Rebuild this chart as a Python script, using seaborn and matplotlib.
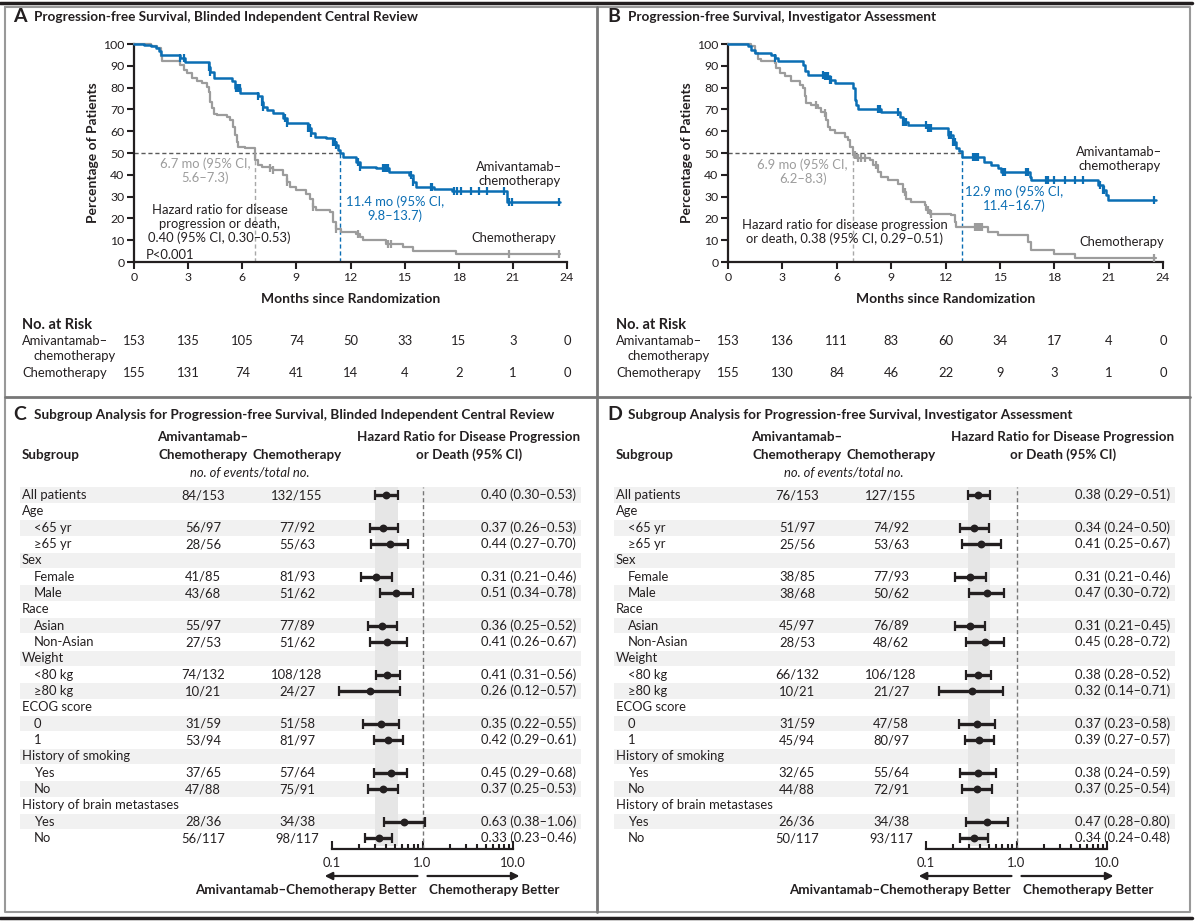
import numpy as np
import matplotlib
matplotlib.use("Agg")
import matplotlib.pyplot as plt
import matplotlib.transforms as mtransforms
from matplotlib.lines import Line2D
from matplotlib.ticker import FixedLocator, NullFormatter
import seaborn as sns

sns.set_style("white")
plt.rcParams["font.family"] = ["Lato", "DejaVu Sans"]
plt.rcParams["font.size"] = 9.4

W, H = 1196, 923
INK = "#231f20"
BLUE = "#0b6eb4"
GRAY = "#9c9c9c"
FS = 9.4      # body text
FSB = 9.6     # bold headers

# -----------------------------
# Kaplan-Meier curves (months, % of patients)
# -----------------------------
# Panel A - blinded independent central review
a_amiv_t = [0, 0.55, 0.92, 1.2, 1.38, 1.47, 2.57, 2.85, 4.14, 4.23, 4.41, 5.42, 5.61, 5.88, 6.89,
            7.08, 7.17, 7.35, 7.72, 8.27, 8.46, 9.65, 9.83, 10.02, 10.66, 11.03, 11.21, 11.3, 11.43,
            11.58, 12.32, 12.5, 13.42, 14.15, 15.26, 15.44, 15.63, 16.64, 17.65, 20.68, 23.6]
a_amiv_s = [100, 99.4, 99, 98, 97, 94.8, 93.6, 91.7, 89.4, 87, 84.4, 82.8, 80, 77.5, 76,
            73.6, 71.3, 69.8, 68.3, 66, 63.8, 61.3, 59, 57.5, 56.7, 55.2, 53.7, 51.4, 49.8,
            48.3, 46, 43.7, 43, 41.4, 39.9, 36.8, 34.5, 33.7, 32.5, 27.6, 27.6]
a_amiv_cens = [2.57, 2.76, 4.14, 4.23, 5.66, 5.74, 5.85, 6.89, 7.08, 7.17, 8.36, 8.46, 9.65, 9.74,
               9.83, 11.03, 11.12, 11.21, 12.41, 12.5, 13.79, 13.88, 13.97, 14.06, 15.35, 15.44,
               16.45, 16.54, 17.74, 17.92, 18.11, 18.66, 19.12, 19.58, 20.5, 20.77, 20.96, 23.53]

a_chemo_t = [0, 0.92, 1.29, 1.47, 1.56, 2.57, 2.76, 2.94, 3.22, 3.49, 3.77, 4.04, 4.14, 4.23, 4.32,
             4.41, 4.6, 5.15, 5.33, 5.51, 5.61, 5.7, 5.79, 6.16, 6.71, 6.9, 7.08, 7.54, 7.72, 8.27,
             8.46, 8.64, 9.0, 9.56, 9.74, 9.93, 10.11, 10.85, 11.03, 11.21, 11.49, 12.32, 12.5,
             12.68, 13.97, 14.89, 15.44, 17.83, 23.6]
a_chemo_s = [100, 99, 98, 94.3, 92, 90.5, 88.2, 86.7, 84.4, 82.8, 82, 80.5, 78.2, 73.6, 70.6,
             68, 67.5, 66.7, 65, 62, 58.3, 55.2, 52.9, 52.2, 46.8, 44.5, 43.7, 43, 42.3, 39.9,
             36.8, 34.5, 33, 31.4, 29.1, 25.3, 23.8, 23, 18.4, 15.3, 13.8, 13, 11.5,
             10, 8.4, 6.9, 4.9, 3.5, 3.5]
a_chemo_cens = [7.54, 7.72, 8.46, 9.93, 11.21, 12.41, 14.06, 14.25, 20.77, 23.55]

# Panel B - investigator assessment
b_amiv_t = [0, 1.1, 1.29, 1.47, 2.39, 2.57, 2.76, 4.14, 4.23, 4.41, 5.33, 5.61, 5.88, 6.89, 6.98,
            7.08, 7.17, 8.46, 9.47, 9.65, 9.93, 11.03, 12.14, 12.4, 12.6, 12.75, 12.9, 14.15,
            14.52, 14.89, 15.07, 16.64, 16.73, 20.4, 20.68, 20.86, 20.96, 23.6]
b_amiv_s = [100, 99, 97.4, 95.9, 95, 93.6, 92, 90.5, 87.4, 85.9, 85.1, 83.6, 82, 79.8, 74.4,
            72.1, 70.2, 69, 66.7, 64.4, 62.9, 61.3, 58.3, 55.2, 52.5, 51, 48.3, 46,
            44.5, 43, 41.4, 39.1, 37.6, 35.3, 33, 30.7, 28.4, 28.4]
b_amiv_cens = [2.57, 5.24, 5.33, 5.42, 5.51, 5.61, 5.7, 8.27, 8.36, 9.38, 9.65, 9.74, 9.83, 10.94,
               11.03, 11.12, 11.21, 12.22, 12.32, 12.41, 12.5, 13.51, 13.6, 13.69, 13.79, 15.17,
               15.26, 16.45, 16.54, 17.55, 17.65, 18.01, 18.57, 19.12, 19.58, 20.5, 20.68, 20.77,
               23.53]

b_chemo_t = [0, 1.29, 1.47, 1.65, 1.84, 2.57, 2.67, 2.85, 3.13, 3.49, 3.95, 4.14, 4.23, 4.32, 4.6,
             4.96, 5.15, 5.33, 5.42, 5.51, 5.61, 5.88, 6.43, 6.62, 6.71, 6.89, 7.08, 7.81, 7.99,
             8.27, 8.46, 8.82, 9.38, 9.65, 9.83, 10.11, 10.85, 10.94, 11.12, 12.32, 12.5, 12.59,
             14.34, 14.89, 16.54, 16.73, 18.01, 19.12, 23.6]
b_chemo_s = [100, 99, 95.9, 93, 92, 91.3, 89, 86.7, 85.1, 82.8, 81.3, 79.8, 76, 72.9, 72.1,
             70.6, 69, 68.3, 65.2, 62.1, 60.6, 59, 57.5, 56, 52.9, 49.1, 47.5, 46.8, 44.5,
             41.4, 39.1, 37.6, 36, 32.2, 29.1, 27.6, 26.1, 23.8, 22.2, 21.4, 18.4, 16.1,
             13.8, 12.3, 9.2, 5.4, 3.8, 2.0, 2.0]
b_chemo_cens = [4.87, 5.33, 6.98, 7.17, 7.35, 7.54, 8.18, 9.74, 11.03, 11.21, 13.6, 13.7, 13.8,
                13.9, 14.0, 23.53]

# medians (months)
a_median_amiv, a_median_chemo = 11.4, 6.7
b_median_amiv, b_median_chemo = 12.9, 6.9

# number at risk
risk_months = [0, 3, 6, 9, 12, 15, 18, 21, 24]
a_risk_amiv = [153, 135, 105, 74, 50, 33, 15, 3, 0]
a_risk_chemo = [155, 131, 74, 41, 14, 4, 2, 1, 0]
b_risk_amiv = [153, 136, 111, 83, 60, 34, 17, 4, 0]
b_risk_chemo = [155, 130, 84, 46, 22, 9, 3, 1, 0]

# -----------------------------
# Subgroup (forest) data
# -----------------------------
subgroups = ["All patients", "Age", "<65 yr", "\u226565 yr", "Sex", "Female", "Male", "Race",
             "Asian", "Non-Asian", "Weight", "<80 kg", "\u226580 kg", "ECOG score", "0", "1",
             "History of smoking", "Yes", "No", "History of brain metastases", "Yes", "No"]

c_amiv = ["84/153", None, "56/97", "28/56", None, "41/85", "43/68", None, "55/97", "27/53", None,
          "74/132", "10/21", None, "31/59", "53/94", None, "37/65", "47/88", None, "28/36", "56/117"]
c_chemo = ["132/155", None, "77/92", "55/63", None, "81/93", "51/62", None, "77/89", "51/62", None,
           "108/128", "24/27", None, "51/58", "81/97", None, "57/64", "75/91", None, "34/38", "98/117"]
c_hr = [0.40, None, 0.37, 0.44, None, 0.31, 0.51, None, 0.36, 0.41, None,
        0.41, 0.26, None, 0.35, 0.42, None, 0.45, 0.37, None, 0.63, 0.33]
c_lo = [0.30, None, 0.26, 0.27, None, 0.21, 0.34, None, 0.25, 0.26, None,
        0.31, 0.12, None, 0.22, 0.29, None, 0.29, 0.25, None, 0.38, 0.23]
c_hi = [0.53, None, 0.53, 0.70, None, 0.46, 0.78, None, 0.52, 0.67, None,
        0.56, 0.57, None, 0.55, 0.61, None, 0.68, 0.53, None, 1.06, 0.46]

d_amiv = ["76/153", None, "51/97", "25/56", None, "38/85", "38/68", None, "45/97", "28/53", None,
          "66/132", "10/21", None, "31/59", "45/94", None, "32/65", "44/88", None, "26/36", "50/117"]
d_chemo = ["127/155", None, "74/92", "53/63", None, "77/93", "50/62", None, "76/89", "48/62", None,
           "106/128", "21/27", None, "47/58", "80/97", None, "55/64", "72/91", None, "34/38", "93/117"]
d_hr = [0.38, None, 0.34, 0.41, None, 0.31, 0.47, None, 0.31, 0.45, None,
        0.38, 0.32, None, 0.37, 0.39, None, 0.38, 0.37, None, 0.47, 0.34]
d_lo = [0.29, None, 0.24, 0.25, None, 0.21, 0.30, None, 0.21, 0.28, None,
        0.28, 0.14, None, 0.23, 0.27, None, 0.24, 0.25, None, 0.28, 0.24]
d_hi = [0.51, None, 0.50, 0.67, None, 0.46, 0.72, None, 0.45, 0.72, None,
        0.52, 0.71, None, 0.58, 0.57, None, 0.59, 0.54, None, 0.80, 0.48]

# -----------------------------
# Figure helpers (pixel layout)
# -----------------------------
fig = plt.figure(figsize=(W / 100, H / 100), dpi=100)


def frect(x0, y0, x1, y1):
    return [x0 / W, 1 - y1 / H, (x1 - x0) / W, (y1 - y0) / H]


def ftext(x, y, s, **kw):
    kw.setdefault("color", INK)
    kw.setdefault("va", "center")
    fig.text(x / W, 1 - y / H, s, **kw)


def fline(xs, ys, **kw):
    fig.add_artist(Line2D([x / W for x in xs], [1 - y / H for y in ys], **kw))


# -----------------------------
# Kaplan-Meier panels
# -----------------------------
def km_panel(x0, x1, curves, med_amiv, med_chemo, notes, risk_amiv, risk_chemo):
    ax = fig.add_axes(frect(x0, 44, x1, 262))
    ax.patch.set_alpha(0)
    dash = (0, (3, 2))
    ax.plot([0, med_amiv], [50, 50], color="#5a5a5a", lw=1, ls=dash, zorder=1)
    ax.plot([med_chemo, med_chemo], [0, 50], color="#a8a8a8", lw=1, ls=dash, zorder=1)
    ax.plot([med_amiv, med_amiv], [0, 50], color=BLUE, lw=1, ls=dash, zorder=1)

    for t, s, cens, col, lw in curves:
        sns.lineplot(x=t, y=s, drawstyle="steps-post", estimator=None, sort=False,
                     color=col, linewidth=lw, ax=ax, clip_on=False, zorder=3)
        idx = np.searchsorted(t, cens, side="right") - 1
        ax.plot(cens, np.asarray(s)[idx], ls="none", marker="|", ms=6, mew=1.6,
                color=col, clip_on=False, zorder=4)

    for x, y, s, col, ha in notes:
        ax.text(x, y, s, color=col, ha=ha, va="center", fontsize=FS, linespacing=1.15)

    ax.set_xlim(0, 24)
    ax.set_ylim(0, 100)
    ax.set_xticks(risk_months)
    ax.set_yticks(range(0, 101, 10))
    ax.set_xlabel("")
    ax.set_ylabel("")
    sns.despine(ax=ax)
    for sp in ("left", "bottom"):
        ax.spines[sp].set_linewidth(1.6)
        ax.spines[sp].set_color(INK)
    ax.tick_params(direction="out", length=5, width=1.5, labelsize=8.8, pad=2,
                   colors=INK, left=True, bottom=True)

    ftext(x0 - 41, 153, "Percentage of Patients", rotation=90, ha="center",
          weight="bold", fontsize=10)
    ftext((x0 + x1) / 2, 299, "Months since Randomization", ha="center",
          weight="bold", fontsize=10)

    # number at risk
    ax_r = fig.add_axes(frect(x0, 315, x1, 385))
    ax_r.set_xlim(0, 24)
    ax_r.set_ylim(2.75, -1.625)
    ax_r.axis("off")
    for m, n1, n2 in zip(risk_months, risk_amiv, risk_chemo):
        ax_r.text(m, 0, str(n1), ha="center", va="center", color=INK, fontsize=FS)
        ax_r.text(m, 2, str(n2), ha="center", va="center", color=INK, fontsize=FS)
    return ax


notes_a = [
    (3.94, 41.7, "6.7 mo (95% CI,\n5.6\u20137.3)", GRAY, "center"),
    (4.75, 17.5, "Hazard ratio for disease\nprogression or death,\n0.40 (95% CI, 0.30\u20130.53)",
     INK, "center"),
    (0.67, 3.2, "P<0.001", INK, "left"),
    (14.47, 24.3, "11.4 mo (95% CI,\n9.8\u201313.7)", BLUE, "center"),
    (21.35, 40.4, "Amivantamab\u2013\nchemotherapy", INK, "center"),
    (21.06, 10.9, "Chemotherapy", INK, "center"),
]
notes_b = [
    (4.12, 41.3, "6.9 mo (95% CI,\n6.2\u20138.3)", GRAY, "center"),
    (6.43, 13.8, "Hazard ratio for disease progression\nor death, 0.38 (95% CI, 0.29\u20130.51)",
     INK, "center"),
    (15.8, 29.0, "12.9 mo (95% CI,\n11.4\u201316.7)", BLUE, "center"),
    (21.6, 47.2, "Amivantamab\u2013\nchemotherapy", INK, "center"),
    (21.7, 9.2, "Chemotherapy", INK, "center"),
]

km_panel(134, 567,
         [(a_chemo_t, a_chemo_s, a_chemo_cens, GRAY, 1.6),
          (a_amiv_t, a_amiv_s, a_amiv_cens, BLUE, 1.8)],
         a_median_amiv, a_median_chemo, notes_a, a_risk_amiv, a_risk_chemo)
km_panel(728, 1163,
         [(b_chemo_t, b_chemo_s, b_chemo_cens, GRAY, 1.6),
          (b_amiv_t, b_amiv_s, b_amiv_cens, BLUE, 1.8)],
         b_median_amiv, b_median_chemo, notes_b, b_risk_amiv, b_risk_chemo)

for off in (0, 594):
    ftext(22 + off, 325, "No. at Risk", weight="bold", fontsize=10.5)
    ftext(22 + off, 341, "Amivantamab\u2013", fontsize=FS)
    ftext(34 + off, 356, "chemotherapy", fontsize=FS)
    ftext(22 + off, 373, "Chemotherapy", fontsize=FS)


# -----------------------------
# Forest panels
# -----------------------------
ROW_TOP, ROW_PITCH, AXIS_Y = 487, 16.33, 849


def forest(off, amiv, chemo, hr, lo, hi):
    n = len(subgroups)
    y_bottom = -0.5 + (AXIS_Y - ROW_TOP) / ROW_PITCH

    ax_t = fig.add_axes(frect(20 + off, ROW_TOP, 581 + off, AXIS_Y))
    ax_t.set_xlim(20 + off, 581 + off)
    ax_t.set_ylim(y_bottom, -0.5)
    ax_t.axis("off")
    for i in range(0, n, 2):
        ax_t.axhspan(i - 0.47, i + 0.47, color="#f1f1f1", lw=0)

    for i, name in enumerate(subgroups):
        indent = 12 if (i > 0 and amiv[i] is not None) else 0
        ax_t.text(22 + off + indent, i, name, ha="left", va="center", color=INK, fontsize=FS)
        if amiv[i] is None:
            continue
        ax_t.text(203 + off, i, amiv[i], ha="center", va="center", color=INK, fontsize=FS)
        ax_t.text(297 + off, i, chemo[i], ha="center", va="center", color=INK, fontsize=FS)
        ax_t.text(576 + off, i, f"{hr[i]:.2f} ({lo[i]:.2f}\u2013{hi[i]:.2f})",
                  ha="right", va="center", color=INK, fontsize=FS)

    ax_h = fig.add_axes(frect(332 + off, ROW_TOP, 513 + off, AXIS_Y))
    ax_h.patch.set_alpha(0)
    ax_h.set_xscale("log")
    rows = [i for i in range(n) if hr[i] is not None]
    hrs = [hr[i] for i in rows]
    los = [lo[i] for i in rows]
    his = [hi[i] for i in rows]

    ax_h.axvspan(lo[0], hi[0], ymin=(y_bottom - (n - 0.5)) / (y_bottom + 0.5),
                 color="#e6e6e6", lw=0, zorder=0)
    ax_h.axvline(1, color="#777777", lw=1, ls=(0, (3, 2)), zorder=1)
    ax_h.hlines(rows, los, his, color=INK, lw=2.4, zorder=3)
    ax_h.plot(los, rows, ls="none", marker="|", ms=7, mew=1.6, color=INK, zorder=3)
    ax_h.plot(his, rows, ls="none", marker="|", ms=7, mew=1.6, color=INK, zorder=3)
    sns.scatterplot(x=hrs, y=rows, ax=ax_h, color=INK, s=32, edgecolor=INK,
                    linewidth=0, zorder=4)

    ax_h.set_xlim(0.1, 10)
    ax_h.set_ylim(y_bottom, -0.5)
    ax_h.set_xlabel("")
    ax_h.set_ylabel("")
    for sp in ("left", "right", "top"):
        ax_h.spines[sp].set_visible(False)
    ax_h.spines["bottom"].set_linewidth(1.6)
    ax_h.spines["bottom"].set_color(INK)
    ax_h.xaxis.set_major_locator(FixedLocator([0.1, 1, 10]))
    ax_h.set_xticklabels(["0.1", "1.0", "10.0"])
    ax_h.xaxis.set_minor_locator(FixedLocator([0.2, 0.3, 0.4, 0.5, 0.6, 0.7, 0.8, 0.9,
                                               2, 3, 4, 5, 6, 7, 8, 9]))
    ax_h.xaxis.set_minor_formatter(NullFormatter())
    ax_h.tick_params(axis="x", which="major", direction="in", length=6, width=1.5,
                     pad=6, labelsize=FS, colors=INK, bottom=True)
    ax_h.tick_params(axis="x", which="minor", direction="in", length=3.5, width=1.5,
                     colors=INK, bottom=True)
    ax_h.tick_params(axis="y", left=False, labelleft=False)

    trans = mtransforms.blended_transform_factory(ax_h.transData, ax_h.transAxes)
    arrow = dict(arrowstyle="-|>", color=INK, lw=1.6, mutation_scale=11,
                 shrinkA=0, shrinkB=0)
    ay = -(876 - AXIS_Y) / (AXIS_Y - ROW_TOP)
    ax_h.annotate("", xy=(0.083, ay), xytext=(0.88, ay), xycoords=trans,
                  textcoords=trans, arrowprops=arrow, annotation_clip=False)
    ax_h.annotate("", xy=(11.8, ay), xytext=(1.135, ay), xycoords=trans,
                  textcoords=trans, arrowprops=arrow, annotation_clip=False)

    ftext(417 + off, 890, "Amivantamab\u2013Chemotherapy Better", ha="right",
          weight="bold", fontsize=FSB)
    ftext(429 + off, 890, "Chemotherapy Better", ha="left", weight="bold", fontsize=FSB)

    # column headers
    ftext(22 + off, 455, "Subgroup", weight="bold", fontsize=FSB)
    ftext(203 + off, 437, "Amivantamab\u2013", ha="center", weight="bold", fontsize=FSB)
    ftext(203 + off, 455, "Chemotherapy", ha="center", weight="bold", fontsize=FSB)
    ftext(297 + off, 455, "Chemotherapy", ha="center", weight="bold", fontsize=FSB)
    ftext(250 + off, 473, "no. of events/total no.", ha="center", style="italic", fontsize=FS)
    ftext(469 + off, 437, "Hazard Ratio for Disease Progression", ha="center",
          weight="bold", fontsize=FSB)
    ftext(469 + off, 455, "or Death (95% CI)", ha="center", weight="bold", fontsize=FSB)


forest(0, c_amiv, c_chemo, c_hr, c_lo, c_hi)
forest(594, d_amiv, d_chemo, d_hr, d_lo, d_hi)

# -----------------------------
# Panel titles and frame
# -----------------------------
titles = [
    (13, 17, "A", "Progression-free Survival, Blinded Independent Central Review"),
    (607, 17, "B", "Progression-free Survival, Investigator Assessment"),
    (13, 415, "C", "Subgroup Analysis for Progression-free Survival, Blinded Independent Central Review"),
    (607, 415, "D", "Subgroup Analysis for Progression-free Survival, Investigator Assessment"),
]
for x, y, letter, text in titles:
    ftext(x, y, letter, weight="bold", fontsize=14)
    ftext(x + 21, y, text, weight="bold", fontsize=9.8)

fline([0, 1192], [3, 3], color=INK, lw=2.5)
fline([0, 1192], [918, 918], color=INK, lw=2.5)
fline([5, 1190, 1190, 5, 5], [7, 7, 912, 912, 7], color="#999999", lw=1.5)
fline([597, 597], [7, 912], color="#777777", lw=2)
fline([5, 1190], [397, 397], color="#777777", lw=2)

fig.savefig("out.png", dpi=100)
